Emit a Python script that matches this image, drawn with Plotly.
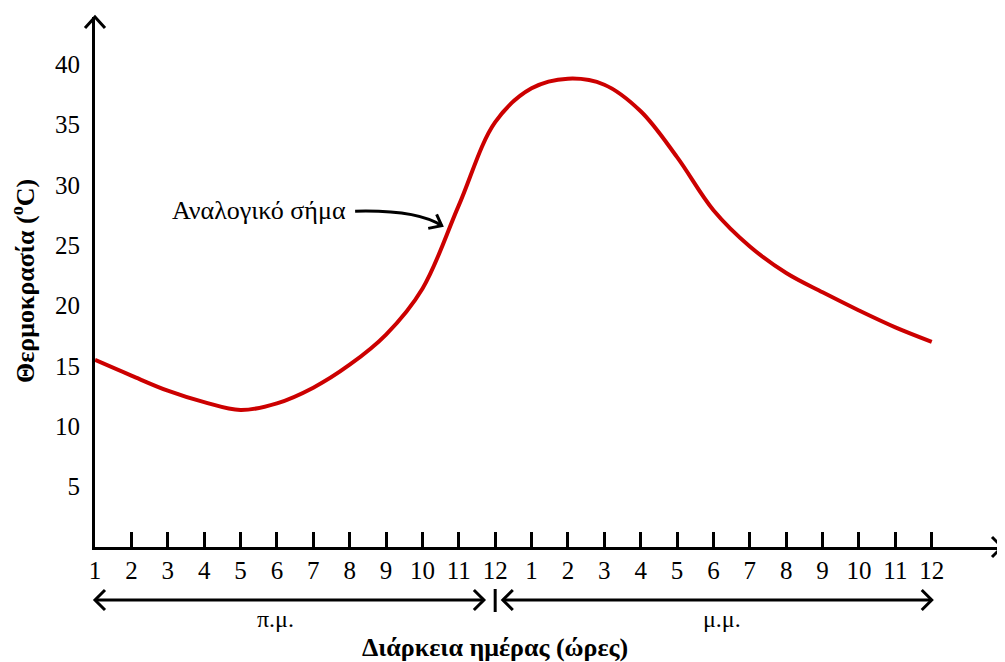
import plotly.graph_objects as go

# ---------------- data ----------------
hour_index = list(range(24))
hour_labels = [str(h) for h in range(1, 13)] + [str(h) for h in range(1, 13)]
temperature = [15.5, 14.2, 12.95, 12.0, 11.35, 11.9, 13.2, 15.1, 17.6, 21.4, 28.3, 35.2,
               38.0, 38.8, 38.3, 36.1, 32.3, 27.9, 24.9, 22.7, 21.1, 19.6, 18.2, 17.0]
y_tick_vals = [5, 10, 15, 20, 25, 30, 35, 40]

x_title = "Διάρκεια ημέρας (ώρες)"
y_title = "Θερμοκρασία (<sup>o</sup>C)"
note_text = "Αναλογικό σήμα"
am_text = "π.μ."
pm_text = "μ.μ."

# ---------------- layout geometry ----------------
# page body has an 8px default margin, so the figure is slightly smaller
W, H = 997, 654
ML, MR, MT = 87, 1, 9
PH = 530
MB = H - MT - PH
PW = W - ML - MR
UX = 36.38           # px per hour
UY = 12.07           # px per degree
XMAX = PW / UX
YMAX = PH / UY

FONT = "Liberation Serif, Times New Roman, serif"
RED = "#CC0000"


def xp(h):  # hour -> paper x
    return h / XMAX


def xpx(px):  # pixel offset from left of plot -> paper x
    return px / PW


def ypx(px):  # pixel offset above x-axis (negative: below) -> paper y
    return px / PH


fig = go.Figure()
fig.add_trace(go.Scatter(
    x=hour_index, y=temperature, mode="lines",
    line=dict(color=RED, width=4, shape="spline", smoothing=1.0),
    hoverinfo="skip", showlegend=False))

shapes = []
blk = dict(color="black", width=3)

# arrowhead on top of y-axis
shapes.append(dict(type="path", xref="paper", yref="paper",
                   path=f"M {xpx(-10)},{1 - ypx(11)} L 0,1 L {xpx(10)},{1 - ypx(11)}",
                   line=blk))
# arrowhead on right of x-axis
shapes.append(dict(type="path", xref="paper", yref="paper",
                   path=f"M {xpx(PW - 12)},{ypx(10)} L {xpx(PW - 2)},0 L {xpx(PW - 12)},{ypx(-10)}",
                   line=blk))

# am / pm double arrows below the axis
arrow_y = -53
for h0, h1 in [(0, 10.69), (11.21, 23)]:
    x0, x1 = xp(h0), xp(h1)
    shapes.append(dict(type="line", xref="paper", yref="paper",
                       x0=x0, x1=x1, y0=ypx(arrow_y), y1=ypx(arrow_y), line=blk))
    shapes.append(dict(type="path", xref="paper", yref="paper",
                       path=f"M {x0 + xpx(10)},{ypx(arrow_y + 10)} L {x0},{ypx(arrow_y)} L {x0 + xpx(10)},{ypx(arrow_y - 10)}",
                       line=blk))
    shapes.append(dict(type="path", xref="paper", yref="paper",
                       path=f"M {x1 - xpx(10)},{ypx(arrow_y + 10)} L {x1},{ypx(arrow_y)} L {x1 - xpx(10)},{ypx(arrow_y - 10)}",
                       line=blk))
# divider at noon
shapes.append(dict(type="line", xref="paper", yref="paper",
                   x0=xp(11), x1=xp(11), y0=ypx(-42), y1=ypx(-65), line=blk))

# curved pointer to the curve
shapes.append(dict(type="path", xref="x", yref="y",
                   path="M 7.15,27.82 Q 8.85,27.95 9.53,26.62",
                   line=dict(color="black", width=3)))
shapes.append(dict(type="path", xref="x", yref="y",
                   path="M 9.39,27.55 L 9.53,26.62 L 9.16,26.40",
                   line=dict(color="black", width=3)))

annotations = [
    dict(text=note_text, xref="x", yref="y", x=6.95, y=27.85, xanchor="right", yanchor="middle",
         showarrow=False, font=dict(family=FONT, size=26, color="black")),
    dict(text=am_text, xref="paper", yref="paper", x=xp(4.95), y=ypx(-72), xanchor="center",
         yanchor="middle", showarrow=False, font=dict(family=FONT, size=24, color="black")),
    dict(text=pm_text, xref="paper", yref="paper", x=xp(17.23), y=ypx(-72), xanchor="center",
         yanchor="middle", showarrow=False, font=dict(family=FONT, size=24, color="black")),
    dict(text=f"<b>{x_title}</b>", xref="paper", yref="paper", x=xp(10.99), y=ypx(-100),
         xanchor="center", yanchor="middle", showarrow=False,
         font=dict(family=FONT, size=26, color="black")),
    dict(text=f"<b>{y_title}</b>", xref="paper", yref="paper", x=xpx(-72), y=ypx(266),
         xanchor="center", yanchor="middle", textangle=-90, showarrow=False,
         font=dict(family=FONT, size=26, color="black")),
]

fig.update_layout(
    width=W, height=H,
    margin=dict(l=ML, r=MR, t=MT, b=MB, pad=0),
    paper_bgcolor="white", plot_bgcolor="white",
    font=dict(family=FONT, size=25, color="black"),
    shapes=shapes, annotations=annotations,
    xaxis=dict(range=[0, XMAX], showgrid=False, zeroline=False,
               showline=True, linecolor="black", linewidth=3,
               tickmode="array", tickvals=hour_index, ticktext=hour_labels,
               ticks="inside", ticklen=15, tickwidth=3, tickcolor="black",
               tickfont=dict(family=FONT, size=25, color="black"),
               ticklabelstandoff=-1, fixedrange=True),
    yaxis=dict(range=[0, YMAX], showgrid=False, zeroline=False,
               showline=True, linecolor="black", linewidth=3,
               tickmode="array", tickvals=y_tick_vals,
               ticks="", tickfont=dict(family=FONT, size=25, color="black"),
               ticklabelstandoff=7, fixedrange=True),
)

fig.write_html("out.html", config={"displayModeBar": False})
